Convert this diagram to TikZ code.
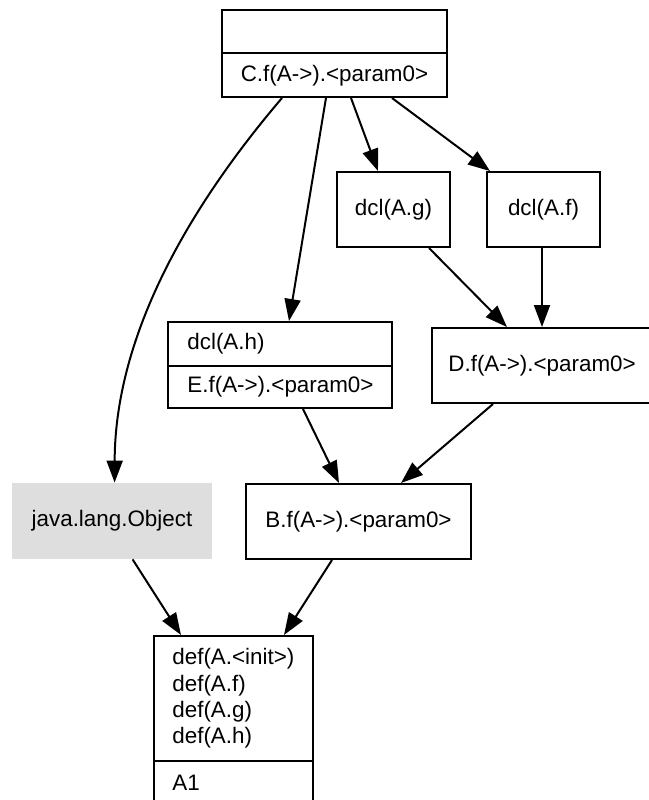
\documentclass[tikz,border=0pt]{standalone}
\usepackage{fontspec}
\setmainfont{Liberation Sans}
\usetikzlibrary{arrows.meta,calc,fit}
\definecolor{objfill}{HTML}{DEDEDE}
\begin{document}
\begin{tikzpicture}[x=0.5pt,y=-0.5pt,
  font=\fontsize{11.2}{13.3}\selectfont,
  frame/.style={draw,line width=1pt,inner sep=0pt,fit={#1}},
  plain/.style={inner sep=0pt,fit={#1}},
  lbl/.style={inner sep=0pt},
  leftlbl/.style={inner sep=0pt,anchor=west},
  edge/.style={line width=1pt,-{Triangle[length=11pt,width=8pt]}}]
\useasboundingbox (0,0) rectangle (649,800);
\clip (0,0) rectangle (649,800);

% class C with its method
\node[frame={(222,10)(447,97)}] (C) {};
\draw[line width=1pt] (222,53) -- (447,53);
\node[lbl] (Ct) at (334.5,75.5) {C.f(A->).<param0>};

% declarations
\node[frame={(337,172)(450,247)}] (G) {};
\node[lbl] (Gt) at (393.5,210) {dcl(A.g)};
\node[frame={(487,172)(600,247)}] (F) {};
\node[lbl] (Ft) at (543.5,210) {dcl(A.f)};

% E
\node[frame={(168,322)(392,408)}] (E) {};
\draw[line width=1pt] (168,366) -- (392,366);
\node[leftlbl] (Eh) at (187,344) {dcl(A.h)};
\node[leftlbl] (Et) at (187,387) {E.f(A->).<param0>};

% D
\node[frame={(432,328)(652,403)}] (D) {};
\node[leftlbl] (Dt) at (448,366) {D.f(A->).<param0>};

% java.lang.Object
\node[plain={(12,483)(212,559)},fill=objfill] (O) {};
\node[lbl] (Ot) at (112,521) {java.lang.Object};

% B
\node[frame={(246,484)(471,559)}] (B) {};
\node[lbl] (Bt) at (358.5,521.5) {B.f(A->).<param0>};

% A1 with its definitions
\node[frame={(154,636)(313,806)}] (A) {};
\draw[line width=1pt] (154,761) -- (313,761);
\node[leftlbl] (A0) at (172,659) {def(A.<init>)};
\node[leftlbl] (A1f) at (172,686) {def(A.f)};
\node[leftlbl] (A1g) at (172,712) {def(A.g)};
\node[leftlbl] (A1h) at (172,738) {def(A.h)};
\node[leftlbl] (An) at (172,783) {A1};

% connectors
\draw[edge] ($(C.south west)+(61,0)$) .. controls (195,200) and (115,330) .. ($(O.north west)+(103,0)$);
\draw[edge] ($(C.south west)+(105,0)$) -- ($(E.north west)+(122,0)$);
\draw[edge] ($(C.south west)+(130,0)$) -- ($(G.north west)+(42,0)$);
\draw[edge] ($(C.south west)+(171,0)$) -- ($(F.north west)+(4,0)$);
\draw[edge] ($(G.south west)+(93,0)$) -- ($(D.north west)+(76,0)$);
\draw[edge] ($(F.south west)+(56,0)$) -- ($(D.north west)+(111,0)$);
\draw[edge] ($(E.south west)+(136,0)$) -- ($(B.north west)+(94,0)$);
\draw[edge] ($(D.south west)+(62,0)$) -- ($(B.north west)+(156,0)$);
\draw[edge] ($(O.south west)+(121,0)$) -- ($(A.north west)+(28,0)$);
\draw[edge] ($(B.south west)+(87,0)$) -- ($(A.north west)+(131,0)$);
\end{tikzpicture}
\end{document}
